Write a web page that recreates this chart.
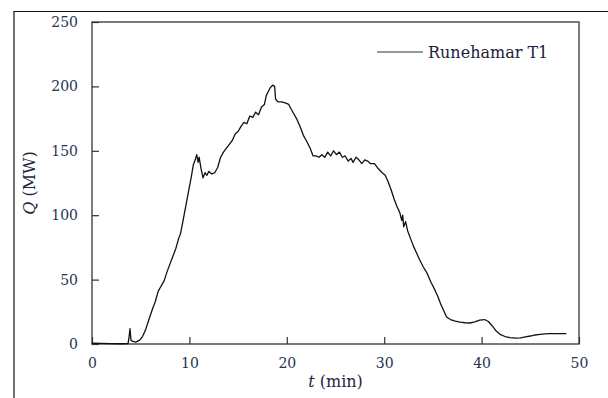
<!DOCTYPE html>
<html lang="en">
  <head>
    <meta charset="UTF-8" />
    <title>Runehamar T1</title>
    <style>
      body {
        margin: 0;
        background: white;
      }
      .tick-label {
        fill: #26334f;
        font-family: "DejaVu Serif", serif;
        font-size: 14px;
      }
      .axis-label {
        fill: #1d2740;
        font-family: "DejaVu Serif", serif;
        font-size: 16px;
        text-anchor: middle;
      }
      .hrr-line {
        fill: none;
        stroke: #111;
        stroke-width: 1.3;
        stroke-linejoin: round;
      }
    </style>
  </head>
  <body>
    <script src="https://d3js.org/d3.v7.min.js"></script>
    <script>
      // time (min) and heat release rate (MW)
      const times = [
        0, 1, 2, 3, 3.7, 3.8, 3.9, 4.0, 4.2, 4.5, 4.9, 5.2, 5.5, 5.8, 6.2, 6.5,
        6.8, 7.1, 7.4, 7.7, 8.0, 8.3, 8.6, 8.9, 9.1, 9.4, 9.7, 10.0, 10.2, 10.4,
        10.6, 10.75, 10.9, 11.0, 11.2, 11.4, 11.6, 11.8, 12.0, 12.3, 12.6, 12.9,
        13.2, 13.5, 13.8, 14.1, 14.4, 14.7, 15.0, 15.3, 15.6, 15.9, 16.2, 16.5,
        16.8, 17.1, 17.4, 17.7, 17.9, 18.1, 18.3, 18.55, 18.75, 18.85, 19.1,
        19.5, 19.9, 20.2, 20.4, 20.7, 21.0, 21.35, 21.7, 22.0, 22.4, 22.7, 23.0,
        23.3, 23.6, 23.9, 24.2, 24.5, 24.8, 25.1, 25.4, 25.7, 26.0, 26.3, 26.6,
        26.8, 27.1, 27.4, 27.7, 28.0, 28.3, 28.6, 29.0, 29.4, 29.8, 30.1, 30.4,
        30.7, 31.0, 31.3, 31.6, 31.8, 31.9, 32.0, 32.2, 32.4, 32.7, 33.0, 33.3,
        33.6, 34.0, 34.4, 34.8, 35.2, 35.5, 35.8, 36.1, 36.4, 36.8, 37.3, 37.8,
        38.3, 38.8, 39.3, 39.8, 40.3, 40.7, 41.1, 41.5, 41.9, 42.4, 42.9, 43.5,
        44.0, 44.5, 45.0, 45.5, 46.0, 46.5, 47.0, 47.5, 48.0, 48.7,
      ];
      const hrr = [
        0.6, 0.5, 0.3, 0.2, 0.3, 5, 12, 3, 2, 1.5, 3, 6, 11, 18, 27, 33, 41, 45,
        49, 56, 62, 68, 74, 82, 86, 98, 110, 122, 130, 139, 143, 147, 141, 145,
        136, 129, 133, 131, 134, 132, 133, 137, 145, 149, 152, 155, 158, 163,
        165, 169, 172, 171, 177, 176, 180, 178, 184, 186, 193, 196, 199, 201,
        200, 190, 188, 188, 187, 186, 183, 179, 175, 169, 162, 158, 152, 146,
        146, 145, 147, 145, 149, 146, 150, 147, 149, 145, 146, 142, 144, 141,
        145, 143, 140, 143, 142, 140, 140, 136, 133, 131, 126, 120, 113, 107,
        102, 96, 100, 91, 95, 88, 82, 76, 71, 66, 60, 55, 48, 42, 37, 31, 26,
        21, 19, 17.8, 17, 16.5, 16.3, 17.2, 18.6, 19, 17.5, 14, 10, 7.5, 5.8,
        4.9, 4.6, 4.8, 5.5, 6.2, 7, 7.5, 7.8, 8, 8, 8, 8,
      ];
      const xTicks = [0, 10, 20, 30, 40, 50];
      const yTicks = [0, 50, 100, 150, 200, 250];
      const seriesName = "Runehamar T1";

      const series = times.map((t, i) => ({ t, q: hrr[i] }));

      const width = 608;
      const height = 398;
      const plot = { left: 92, right: 579, top: 22, bottom: 344 };

      const svg = d3
        .select("body")
        .append("svg")
        .attr("width", width)
        .attr("height", height);

      // outer frame (only top and left edges are visible)
      svg
        .append("path")
        .attr("d", `M14,${height} V11.5 H${width}`)
        .attr("fill", "none")
        .attr("stroke", "#111")
        .attr("stroke-width", 1.2);

      const xScale = d3
        .scaleLinear()
        .domain([0, 50])
        .range([plot.left, plot.right]);

      const yScale = d3
        .scaleLinear()
        .domain([0, 250])
        .range([plot.bottom, plot.top]);

      // plot box
      svg
        .append("rect")
        .attr("x", plot.left)
        .attr("y", plot.top)
        .attr("width", plot.right - plot.left)
        .attr("height", plot.bottom - plot.top)
        .attr("fill", "none")
        .attr("stroke", "#444")
        .attr("stroke-width", 1.4);

      const xAxis = d3
        .axisBottom(xScale)
        .tickValues(xTicks)
        .tickSize(-7)
        .tickPadding(14)
        .tickFormat(d3.format("d"));

      const yAxis = d3
        .axisLeft(yScale)
        .tickValues(yTicks)
        .tickSize(-7)
        .tickPadding(14)
        .tickFormat(d3.format("d"));

      svg
        .append("g")
        .attr("transform", `translate(0, ${plot.bottom})`)
        .call(xAxis)
        .call((g) => g.select(".domain").remove())
        .call((g) => g.selectAll("line").attr("stroke", "#333").attr("stroke-width", 1.2))
        .call((g) =>
          g.selectAll("text").attr("class", "tick-label").attr("font-family", null).attr("font-size", null)
        );

      svg
        .append("g")
        .attr("transform", `translate(${plot.left}, 0)`)
        .call(yAxis)
        .call((g) => g.select(".domain").remove())
        .call((g) => g.selectAll("line").attr("stroke", "#333").attr("stroke-width", 1.2))
        .call((g) =>
          g.selectAll("text").attr("class", "tick-label").attr("font-family", null).attr("font-size", null)
        );

      // axis labels
      const xLabel = svg
        .append("text")
        .attr("class", "axis-label")
        .attr("x", xScale(25))
        .attr("y", 387);
      xLabel.append("tspan").attr("font-style", "italic").text("t");
      xLabel.append("tspan").text(" (min)");

      const yLabel = svg
        .append("text")
        .attr("class", "axis-label")
        .attr("transform", `translate(35, 183) rotate(-90)`);
      yLabel.append("tspan").attr("font-style", "italic").text("Q");
      yLabel.append("tspan").text(" (MW)");

      const line = d3
        .line()
        .x((d) => xScale(d.t))
        .y((d) => yScale(d.q));

      svg
        .append("path")
        .datum(series)
        .attr("class", "hrr-line")
        .attr("d", line);

      // legend
      const legend = svg.append("g").attr("transform", "translate(377, 52)");
      legend
        .append("line")
        .attr("x1", 0)
        .attr("x2", 46)
        .attr("stroke", "#333")
        .attr("stroke-width", 1.2);
      legend
        .append("text")
        .attr("x", 51)
        .attr("y", 6)
        .attr("fill", "#1a2238")
        .attr("font-family", "DejaVu Serif, serif")
        .attr("font-size", 16)
        .text(seriesName);
    </script>
  </body>
</html>
